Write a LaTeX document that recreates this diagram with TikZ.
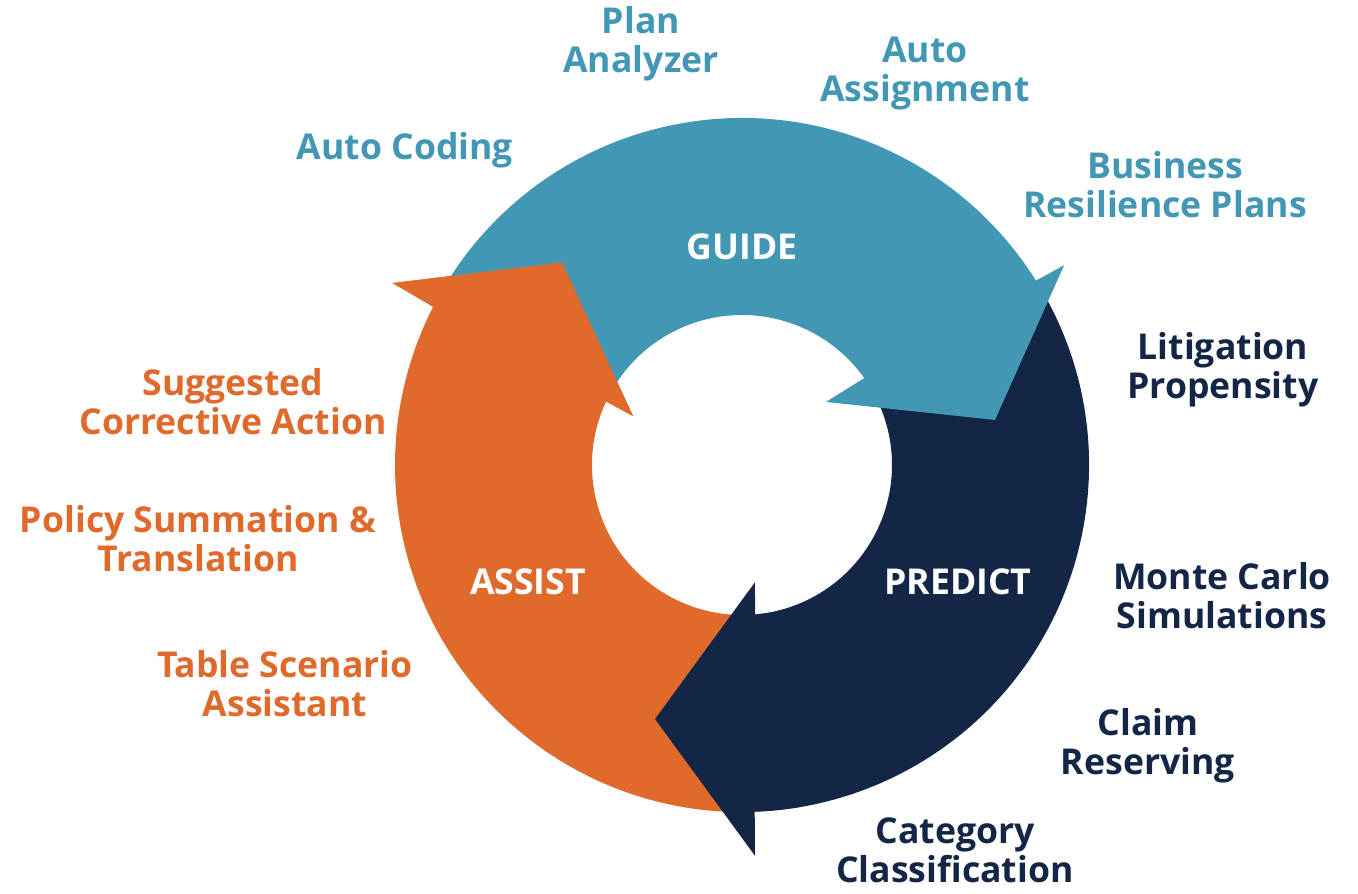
\documentclass[tikz,border=0pt]{standalone}
\usepackage{fontspec}
\setmainfont{Open Sans}
\usepackage{tikz}
\usetikzlibrary{positioning}
\definecolor{guideblue}{RGB}{66,151,181}
\definecolor{predictnavy}{RGB}{20,38,70}
\definecolor{assistorange}{RGB}{224,106,44}
\tikzset {
    label text/.style={
        font=\fontsize{17.8}{19.5}\selectfont\bfseries,
        align=center,
        inner sep=0pt,
        anchor=base, % baseline of the last line at the given point
    },
    guide item/.style={label text, text=guideblue},
    predict item/.style={label text, text=predictnavy},
    assist item/.style={label text, text=assistorange},
    stage name/.style={label text, text=white},
}

\begin{document}
\begin{tikzpicture}[x=0.5pt, y=0.5pt]
\useasboundingbox (-742,-428) rectangle (616,465);

% ASSIST arrow, its tail runs under PREDICT
\fill[assistorange] (280:347) arc[start angle=280, end angle=152.9, radius=347]
  -- (152.5:394) -- (131.6:271) -- (155.8:119.5) -- (155:150)
  arc[start angle=155, end angle=280, radius=150] -- cycle;

% PREDICT arrow
\fill[predictnavy] (30:347) arc[start angle=30, end angle=-87.9, radius=347]
  -- (-88.1:391) -- (-108.9:268.5) -- (-83.7:118) -- (-85:150)
  arc[start angle=-85, end angle=30, radius=150] -- cycle;

% GUIDE arrow, its head covers the PREDICT tail
\fill[guideblue] (150:347) arc[start angle=150, end angle=32.1, radius=347]
  -- (31.8:379) -- (10.1:257) -- (36.9:105) -- (35.4:150)
  arc[start angle=35.4, end angle=150, radius=150] -- cycle;

% ASSIST head once more, over the GUIDE tail
\fill[assistorange] (152.5:394) -- (131.6:271) -- (155.8:119.5) -- cycle;

\node[stage name] (guide) at (0,205) {GUIDE};
\node[stage name] (predict) at (216,-130) {PREDICT};
\node[stage name] (assist) at (-214,-130) {ASSIST};

\node[guide item] (planAnalyzer) at (-101,392) {Plan\\Analyzer};
\node[guide item] (autoAssignment) at (183,363) {Auto\\Assignment};
\node[guide item] (autoCoding) at (-337,305) {Auto Coding};
\node[guide item] (businessPlans) at (423,247) {Business\\Resilience Plans};

\node[predict item] (litigation) at (481,66) {Litigation\\Propensity};
\node[predict item] (monteCarlo) at (480,-163) {Monte Carlo\\Simulations};
\node[predict item] (claimReserving) at (406,-309) {Claim\\Reserving};
\node[predict item] (category) at (213,-417) {Category\\Classification};

\node[assist item] (correctiveAction) at (-509,30) {Suggested\\Corrective Action};
\node[assist item] (policySummation) at (-544,-107) {Policy Summation \&\\Translation};
\node[assist item] (tableScenario) at (-457,-251) {Table Scenario\\Assistant};
\end{tikzpicture}
\end{document}
